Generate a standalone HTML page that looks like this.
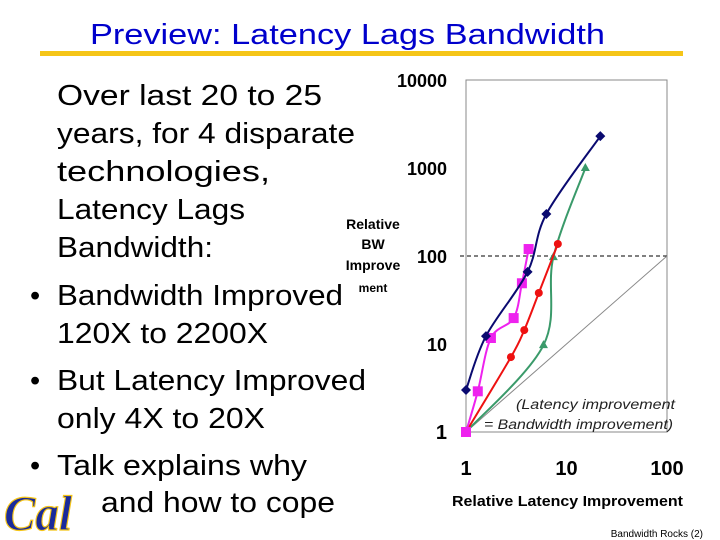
<!DOCTYPE html>
<html><head><meta charset="utf-8"><style>
body{margin:0;background:#fff}
svg{display:block;font-family:"Liberation Sans",sans-serif}
</style></head><body>
<svg width="720" height="540" viewBox="0 0 720 540">
<text x="90" y="44" font-size="29" fill="#0000cc" textLength="515" lengthAdjust="spacingAndGlyphs">Preview: Latency Lags Bandwidth</text>
<rect x="40" y="51" width="643" height="5" fill="#f5c518"/>
<g font-size="29" fill="#000" lengthAdjust="spacingAndGlyphs">
<text x="57" y="105" textLength="265" lengthAdjust="spacingAndGlyphs">Over last 20 to 25</text>
<text x="57" y="143" textLength="298" lengthAdjust="spacingAndGlyphs">years, for 4 disparate</text>
<text x="57" y="181" textLength="213" lengthAdjust="spacingAndGlyphs">technologies,</text>
<text x="57" y="219" textLength="188" lengthAdjust="spacingAndGlyphs">Latency Lags</text>
<text x="57" y="257" textLength="156" lengthAdjust="spacingAndGlyphs">Bandwidth:</text>
<text x="30" y="305">•</text><text x="57" y="305" textLength="286" lengthAdjust="spacingAndGlyphs">Bandwidth Improved</text>
<text x="57" y="343" textLength="211" lengthAdjust="spacingAndGlyphs">120X to 2200X</text>
<text x="30" y="390">•</text><text x="57" y="390" textLength="309" lengthAdjust="spacingAndGlyphs">But Latency Improved</text>
<text x="57" y="428" textLength="208" lengthAdjust="spacingAndGlyphs">only 4X to 20X</text>
<text x="30" y="475">•</text><text x="57" y="475" textLength="250" lengthAdjust="spacingAndGlyphs">Talk explains why</text>
<text x="101" y="512" textLength="234" lengthAdjust="spacingAndGlyphs">and how to cope</text>
</g>
<text x="4" y="530" font-size="50" font-style="italic" font-weight="bold" font-family="Liberation Serif,serif" fill="#1a2a9a" stroke="#f5c518" stroke-width="1.2" textLength="68" lengthAdjust="spacingAndGlyphs">Cal</text>
<g font-weight="bold" font-size="14" text-anchor="middle">
<text x="373" y="229">Relative</text><text x="373" y="249">BW</text><text x="373" y="270">Improve</text>
<text x="373" y="292" font-size="12">ment</text></g>
<text x="452" y="506" font-size="15" font-weight="bold" textLength="231" lengthAdjust="spacingAndGlyphs">Relative Latency Improvement</text>
<text x="703" y="537" font-size="10" text-anchor="end">Bandwidth Rocks (2)</text>
<g id="chart"></g>
</svg>
<script>
const xTicks=[1,10,100];
const yTicks=[1,10,100,1000,10000];
const seriesNames=["processor","memory","network","disk"];
const blueX=[1,1.58,4.1,6.3,21.7];
const blueY=[3,12.3,66,300,2300];
const pinkX=[1,1.31,1.77,2.98,3.6,4.2];
const pinkY=[1,2.9,11.7,19.7,49,120];
const redX=[1,2.8,3.8,5.3,8.2];
const redY=[1,7.1,14.4,38,137];
const greenX=[1,5.9,7.4,15.4];
const greenY=[1,9.7,97,1000];
const NS="http://www.w3.org/2000/svg";
const g=document.getElementById('chart');
const X=v=>466+Math.log10(v)*100.5;
const Y=v=>432-Math.log10(v)*88;
function mk(t,a,p){const e=document.createElementNS(NS,t);for(const k in a)e.setAttribute(k,a[k]);(p||g).appendChild(e);return e;}
const fr=mk('rect',{x:X(1),y:Y(10000),width:X(100)-X(1),height:Y(1)-Y(10000),fill:'none',stroke:'#888','stroke-width':1});


yTicks.forEach(v=>{const t=mk('text',{x:447,y:Y(v)+7,'font-size':v==1?20:18,'font-weight':'bold','text-anchor':'end'});t.textContent=v;

});
xTicks.forEach(v=>{const t=mk('text',{x:X(v),y:475,'font-size':20,'font-weight':'bold','text-anchor':'middle'});t.textContent=v;

});
const dl=mk('line',{x1:460,y1:Y(100),x2:X(100),y2:Y(100),stroke:'#000','stroke-dasharray':'4,3'});


const diag=mk('line',{x1:X(1),y1:Y(1),x2:X(100),y2:Y(100),stroke:'#888','stroke-width':1});


const an=mk('text',{x:516,y:409,'font-size':13.5,'font-style':'italic',fill:'#222',textLength:159,lengthAdjust:'spacingAndGlyphs'});an.textContent='(Latency improvement';


const an2=mk('text',{x:484,y:429,'font-size':13.5,'font-style':'italic',fill:'#222',textLength:189,lengthAdjust:'spacingAndGlyphs'});an2.textContent='= Bandwidth improvement)';


function series(xs,ys,col,shape,name){
 const pts=xs.map((x,i)=>[X(x),Y(ys[i])]);
 let d='M'+pts[0];
 for(let i=0;i<pts.length-1;i++){const p0=pts[i-1]||pts[i],p1=pts[i],p2=pts[i+1],p3=pts[i+2]||p2;
  d+=`C${p1[0]+(p2[0]-p0[0])/6},${p1[1]+(p2[1]-p0[1])/6} ${p2[0]-(p3[0]-p1[0])/6},${p2[1]-(p3[1]-p1[1])/6} ${p2[0]},${p2[1]}`;}
 const l=mk('path',{d,fill:'none',stroke:col,'stroke-width':2});
 
 
 pts.forEach(([x,y])=>{let e;
  if(shape=='d')e=mk('path',{d:`M${x},${y-5}L${x+5},${y}L${x},${y+5}L${x-5},${y}Z`,fill:col});
  else if(shape=='s')e=mk('rect',{x:x-5,y:y-5,width:10,height:10,fill:col});
  else if(shape=='c')e=mk('circle',{cx:x,cy:y,r:4,fill:col});
  else e=mk('path',{d:`M${x},${y-5}L${x+4.5},${y+3}L${x-4.5},${y+3}Z`,fill:col});
  
  });
}
series(greenX,greenY,'#3a9a6a','t','disk');
series(redX,redY,'#ee1111','c','network');
series(pinkX,pinkY,'#ee22ee','s','memory');
series(blueX,blueY,'#0a0a70','d','processor');
</script>
</body></html>
